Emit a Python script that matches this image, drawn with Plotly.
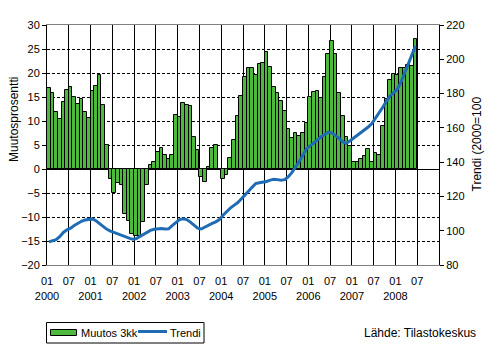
import plotly.graph_objects as go

# Monthly series, Jan 2000 - Jun 2008
start_year = 2000
change_3m = [
    16.9, 15.9, 11.9, 10.5, 14.0, 16.5, 17.1, 15.0, 13.5, 14.6, 11.9, 10.6,   # 2000
    16.3, 17.3, 19.6, 13.3, 4.9, -2.1, -5.0, -2.9, -3.3, -9.4, -10.8, -13.5,  # 2001
    -14.0, -13.9, -11.0, -3.3, 0.8, 1.5, 3.5, 4.4, 2.9, 2.1, 2.9, 11.3,       # 2002
    10.8, 13.75, 13.3, 13.1, 6.7, 4.0, -1.7, -2.7, 0.4, 4.4, 5.0, -0.3,       # 2003
    -2.1, -1.25, 2.3, 6.0, 11.0, 15.3, 19.1, 21.0, 21.0, 19.6, 21.9, 22.1,    # 2004
    24.4, 21.25, 17.1, 15.8, 14.1, 12.1, 8.3, 6.5, 7.5, 6.9, 7.5, 9.6,        # 2005
    15.0, 16.1, 16.25, 14.8, 19.2, 24.0, 26.7, 23.9, 15.8, 11.0, 6.7, 4.8,    # 2006
    1.5, 1.5, 2.1, 2.7, 4.2, 1.5, 3.3, 2.9, 9.0, 14.6, 18.5, 19.8,            # 2007
    19.6, 21.0, 21.0, 21.7, 21.5, 27.1,                                      # 2008
]
trend = [
    93.5, 94.0, 94.8, 96.5, 99.0, 100.5, 101.5, 103.0, 104.5, 105.5, 106.3, 106.8,
    106.9, 105.8, 104.2, 102.5, 100.8, 99.8, 99.0, 98.3, 97.4, 96.3, 95.6, 95.0,
    95.3, 96.5, 97.4, 99.0, 100.2, 100.8, 101.1, 101.3, 101.0, 101.1, 103.0, 104.8,
    106.5, 107.0, 106.5, 105.0, 103.0, 101.5, 101.0, 102.2, 103.5, 104.3, 105.2, 106.5,
    109.0, 111.3, 113.2, 114.8, 116.3, 118.5, 121.0, 123.0, 125.3, 127.5, 128.0, 128.2,
    128.7, 129.5, 130.0, 129.8, 129.4, 129.8, 131.5, 134.0, 137.0, 140.5, 144.0, 147.8,
    149.5, 151.5, 153.0, 154.8, 156.2, 157.5, 157.0, 155.6, 153.9, 151.8, 151.0, 152.5,
    154.0, 155.5, 157.0, 158.7, 160.5, 162.5, 165.5, 168.5, 172.0, 175.5, 178.6, 180.5,
    182.5, 186.5, 191.8, 197.0, 201.5, 207.7,
]
month_labels = ["01", "07"]
years = list(range(2000, 2009))
left_ticks = list(range(-20, 31, 5))
right_ticks = list(range(80, 221, 20))

n_months = 108  # category axis spans Jan 2000 - Dec 2008
x_mid = [i + 0.5 for i in range(len(change_3m))]
x_tr = [i + 0.5 for i in range(len(trend))]

tick_pos = list(range(0, 103, 6))
tick_text = []
for p in tick_pos:
    m = month_labels[(p // 6) % 2]
    if m == "01":
        tick_text.append(f"{m}<br>{years[p // 12]}")
    else:
        tick_text.append(m)

GREEN = "#4DB93D"
BLUE = "#1F6CB5"
FONT = "Liberation Sans, Arial, sans-serif"

fig = go.Figure()
fig.add_trace(go.Bar(
    x=x_mid, y=change_3m, width=1.0, name="Muutos 3kk",
    marker=dict(color=GREEN, line=dict(color="black", width=1)),
    showlegend=False,
))
fig.add_trace(go.Scatter(
    x=x_tr, y=trend, yaxis="y2", mode="lines", name="Trendi",
    line=dict(color=BLUE, width=3), showlegend=False,
))

fig.update_layout(
    width=504, height=348,
    margin=dict(l=47, r=65, t=25, b=83),
    paper_bgcolor="white", plot_bgcolor="white",
    font=dict(family=FONT, size=11, color="black"),
    bargap=0,
    xaxis=dict(
        range=[0, n_months], tickmode="array", tickvals=tick_pos, ticktext=tick_text,
        showgrid=True, gridcolor="black", gridwidth=1,
        showline=True, linecolor="#808080", linewidth=1, mirror=True,
        ticks="outside", ticklen=6, tickcolor="rgba(0,0,0,0)",
        tickfont=dict(size=11), zeroline=False,
    ),
    yaxis=dict(
        range=[-20, 30], tickmode="array", tickvals=left_ticks,
        showgrid=True, gridcolor="black", gridwidth=1, griddash="3px,2px",
        zeroline=True, zerolinecolor="black", zerolinewidth=1,
        showline=True, linecolor="black", linewidth=1,
        ticks="outside", ticklen=4, tickcolor="black",
        tickfont=dict(size=11),
    ),
    yaxis2=dict(
        range=[80, 220], overlaying="y", side="right", tickmode="array",
        tickvals=right_ticks, showgrid=False, zeroline=False,
        showline=True, linecolor="black", linewidth=1,
        ticks="outside", ticklen=4, tickcolor="black",
        tickfont=dict(size=11),
    ),
)

# Axis titles
fig.add_annotation(text="Muutosprosentti", xref="paper", yref="paper",
                   x=-47 / 392 + 14 / 392, y=(265 - 120) / 240, textangle=-90,
                   showarrow=False, font=dict(size=12), xanchor="center", yanchor="middle")
fig.add_annotation(text="Trendi (2000=100", xref="paper", yref="paper",
                   x=(476 - 47) / 392, y=(265 - 144.5) / 240, textangle=-90,
                   showarrow=False, font=dict(size=12), xanchor="center", yanchor="middle")

# Source note
fig.add_annotation(text="Lähde: Tilastokeskus", xref="paper", yref="paper",
                   x=(362 - 47) / 392, y=(265 - 332.5) / 240, showarrow=False,
                   font=dict(size=12), xanchor="left", yanchor="middle")

# Legend drawn as a boxed key below the plot
def px_x(v):
    return (v - 47) / 392

def px_y(v):
    return (265 - v) / 240

fig.add_shape(type="rect", xref="paper", yref="paper",
              x0=px_x(46.5), x1=px_x(204), y0=px_y(343), y1=px_y(322.5),
              line=dict(color="black", width=1), fillcolor="white")
fig.add_shape(type="rect", xref="paper", yref="paper",
              x0=px_x(50.5), x1=px_x(76.5), y0=px_y(335.5), y1=px_y(329.5),
              line=dict(color="black", width=1), fillcolor=GREEN)
fig.add_shape(type="line", xref="paper", yref="paper",
              x0=px_x(138), x1=px_x(167), y0=px_y(331.5), y1=px_y(331.5),
              line=dict(color=BLUE, width=3))
fig.add_annotation(text="Muutos 3kk", xref="paper", yref="paper",
                   x=px_x(79), y=px_y(332.5), showarrow=False,
                   font=dict(size=11), xanchor="left", yanchor="middle")
fig.add_annotation(text="Trendi", xref="paper", yref="paper",
                   x=px_x(167.5), y=px_y(332.5), showarrow=False,
                   font=dict(size=11), xanchor="left", yanchor="middle")

fig.write_html("out.html")
